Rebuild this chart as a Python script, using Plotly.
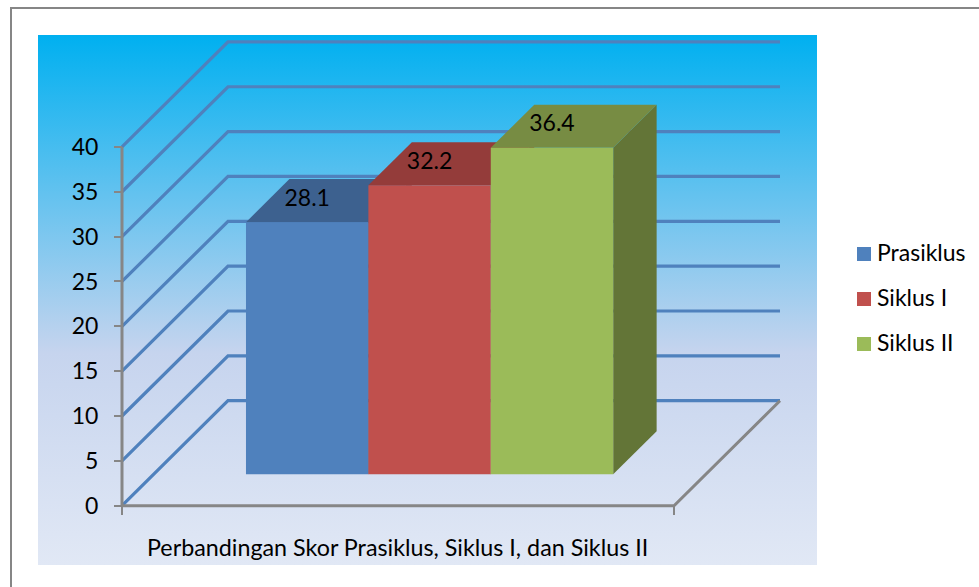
import plotly.graph_objects as go

# ---- data ----
series_names = ["Prasiklus", "Siklus I", "Siklus II"]
series_values = [28.1, 32.2, 36.4]
category_label = "Perbandingan Skor Prasiklus, Siklus I, dan Siklus II"
value_ticks = [0, 5, 10, 15, 20, 25, 30, 35, 40]

front_colors = ["#4f81bd", "#c0504d", "#9bbb59"]
top_colors = ["#3d618f", "#943c3a", "#778c43"]
side_colors = ["#34527a", "#7d3230", "#637537"]

W, H = 979, 587
FONT = "Lato"
FS = 23

# axis frame (pixels)
X0_PX, X1_PX = 122, 674      # floor front edge
Y0_PX = 505.7                # value 0, front
PX_PER_UNIT = 8.97
DEPTH_DX_PX, DEPTH_DY_PX = 106, 105

x_span = X1_PX - X0_PX
x_range = [-X0_PX / x_span, (W - X0_PX) / x_span]
y_range = [-(H - Y0_PX) / PX_PER_UNIT, Y0_PX / PX_PER_UNIT]


def proj(x, v, d):
    """Oblique projection: category pos x (0..1), value v, depth d (0..1)."""
    return x + d * DEPTH_DX_PX / x_span, v + d * DEPTH_DY_PX / PX_PER_UNIT


def px_x(p):
    return (p - X0_PX) / x_span


def px_y(p):
    return (Y0_PX - p) / PX_PER_UNIT


def poly(points, color):
    xs, ys = zip(*points)
    return go.Scatter(x=list(xs), y=list(ys), mode="lines", fill="toself", fillcolor=color,
                      line=dict(width=0), hoverinfo="skip", showlegend=False)


fig = go.Figure()

# gradient panel
panel_l, panel_r, panel_t, panel_b = px_x(38), px_x(817), px_y(35), px_y(565)
fig.add_trace(go.Scatter(
    x=[panel_l, panel_r, panel_r, panel_l, panel_l],
    y=[panel_b, panel_b, panel_t, panel_t, panel_b],
    mode="lines", line=dict(width=0), fill="toself", hoverinfo="skip", showlegend=False,
    fillgradient=dict(type="vertical",
                      colorscale=[[0, "#e1e8f5"], [0.4, "#c6d4ee"], [1, "#00b0f0"]]),
))

# wall gridlines
for v in value_ticks:
    pts = [proj(0, v, 0), proj(0, v, 1), proj(1, v, 1)]
    fig.add_trace(go.Scatter(x=[p[0] for p in pts], y=[p[1] for p in pts], mode="lines",
                             line=dict(color="#4f81bd", width=3.2), hoverinfo="skip",
                             showlegend=False))

# floor edges and axis lines
axis_color = "#868686"
floor = [proj(0, 0, 0), proj(1, 0, 0), proj(1, 0, 1)]
fig.add_trace(go.Scatter(x=[p[0] for p in floor], y=[p[1] for p in floor], mode="lines",
                         line=dict(color=axis_color, width=3), hoverinfo="skip", showlegend=False))
fig.add_trace(go.Scatter(x=[0, 0], y=[0, value_ticks[-1]], mode="lines",
                         line=dict(color=axis_color, width=3), hoverinfo="skip", showlegend=False))

# bars
D_FRONT, D_BACK = 0.30, 0.71
CLUSTER_START = 0.167
BAR_W = 122.4 / x_span
for i, (name, val) in enumerate(zip(series_names, series_values)):
    xl = CLUSTER_START + i * BAR_W
    xr = xl + BAR_W
    front = [proj(xl, 0, D_FRONT), proj(xr, 0, D_FRONT), proj(xr, val, D_FRONT), proj(xl, val, D_FRONT)]
    top = [proj(xl, val, D_FRONT), proj(xr, val, D_FRONT), proj(xr, val, D_BACK), proj(xl, val, D_BACK)]
    side = [proj(xr, 0, D_FRONT), proj(xr, 0, D_BACK), proj(xr, val, D_BACK), proj(xr, val, D_FRONT)]
    fig.add_trace(poly(side + side[:1], side_colors[i]))
    fig.add_trace(poly(top + top[:1], top_colors[i]))
    fig.add_trace(poly(front + front[:1], front_colors[i]))
    lx, ly = proj((xl + xr) / 2, val, D_FRONT)
    fig.add_trace(go.Scatter(x=[lx], y=[ly + 22 / PX_PER_UNIT], mode="text", text=[f"{val}"],
                             textposition="middle center",
                             textfont=dict(family=FONT, size=FS, color="#000000"),
                             hoverinfo="skip", showlegend=False))

# legend: swatch and label per series, placed in the right margin
LEG_X_PX, LEG_TEXT_X_PX, LEG_Y0_PX, LEG_STEP_PX = 864, 877, 254, 45
for i, name in enumerate(series_names):
    leg_y = LEG_Y0_PX + i * LEG_STEP_PX
    fig.add_trace(go.Scatter(x=[px_x(LEG_X_PX)], y=[px_y(leg_y)], mode="markers", name=name,
                             marker=dict(symbol="square", size=14, color=front_colors[i]),
                             hoverinfo="skip", showlegend=False))
    fig.add_trace(go.Scatter(x=[px_x(LEG_TEXT_X_PX)], y=[px_y(leg_y + 1)], mode="text", text=[name],
                             textposition="middle right",
                             textfont=dict(family=FONT, size=FS, color="#000000"),
                             hoverinfo="skip", showlegend=False))

# category label
fig.add_annotation(x=px_x(397.5), y=px_y(547), xref="x", yref="y", text=category_label, showarrow=False,
                   font=dict(family=FONT, size=23.3, color="#000000"), xanchor="center", yanchor="middle")

fig.update_layout(
    width=W, height=H, autosize=False,
    margin=dict(l=0, r=0, t=0, b=0),
    paper_bgcolor="#ffffff", plot_bgcolor="rgba(0,0,0,0)",
    font=dict(family=FONT, size=FS, color="#000000"),
    showlegend=False,
    xaxis=dict(range=x_range, domain=[0, 1], anchor="free", position=1 - Y0_PX / H,
               tickvals=[0, 1], showticklabels=False, ticks="outside", ticklen=8, tickwidth=2,
               tickcolor=axis_color, showgrid=False, zeroline=False, showline=False, fixedrange=True),
    yaxis=dict(range=y_range, domain=[0, 1], anchor="free", position=X0_PX / W,
               tickvals=value_ticks, ticks="outside", ticklen=8, tickwidth=2, tickcolor=axis_color,
               ticklabelstandoff=11, tickfont=dict(family=FONT, size=FS, color="#000000"),
               showgrid=False, zeroline=False, showline=False, fixedrange=True),
    shapes=[
        dict(type="line", xref="paper", yref="paper", x0=11 / W, x1=1, y0=1 - 8 / H, y1=1 - 8 / H,
             line=dict(color=axis_color, width=2)),
        dict(type="line", xref="paper", yref="paper", x0=11 / W, x1=11 / W, y0=1 - 7 / H, y1=0,
             line=dict(color=axis_color, width=2)),
    ],
)

fig.write_html("out.html", config={"displayModeBar": False},
               post_script="document.body.style.margin='0';document.documentElement.style.overflow='hidden';")
